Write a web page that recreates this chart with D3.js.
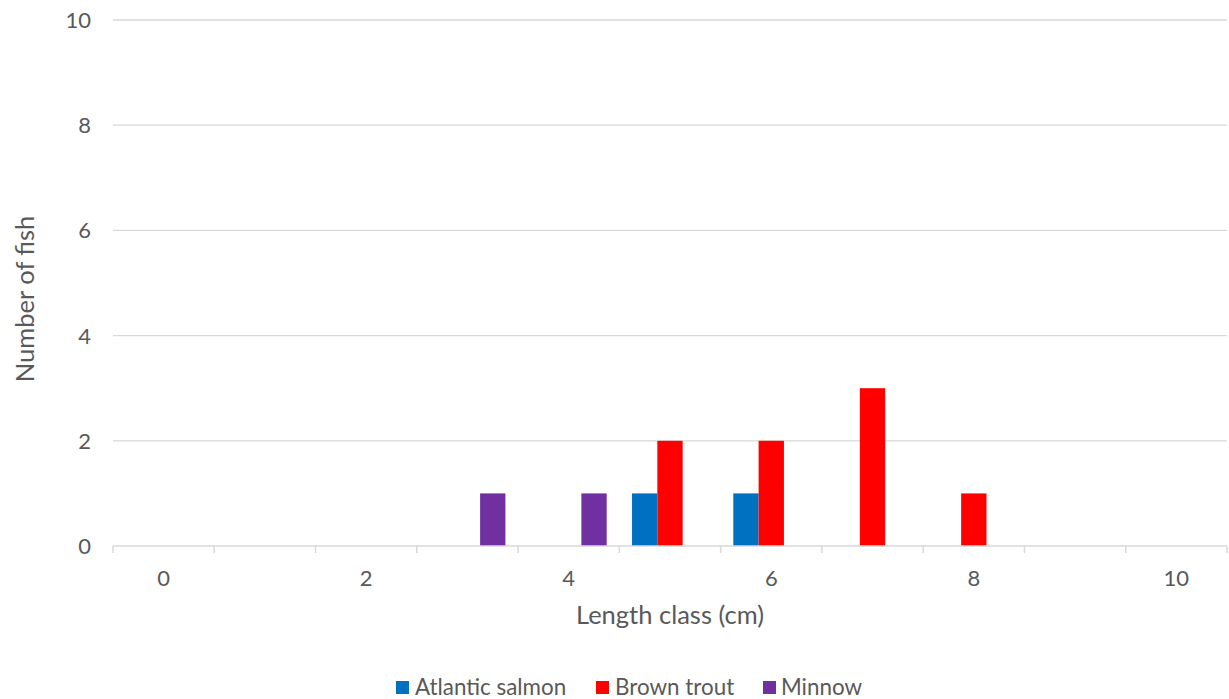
<!DOCTYPE html>
<html>
<head>
<meta charset="utf-8">
<script src="https://cdn.jsdelivr.net/npm/d3@7"></script>
<style>
  html, body { margin: 0; padding: 0; background: #fff; }
  text { font-family: Lato, "Open Sans", sans-serif; fill: #595959; }
</style>
</head>
<body>
<svg id="chart" width="1229" height="699"></svg>
<script>
const categories = [0, 1, 2, 3, 4, 5, 6, 7, 8, 9, 10];
const tickLabels = [0, 2, 4, 6, 8, 10];
const seriesNames = ["Atlantic salmon", "Brown trout", "Minnow"];
const atlanticSalmon = [0, 0, 0, 0, 0, 1, 1, 0, 0, 0, 0];
const brownTrout     = [0, 0, 0, 0, 0, 2, 2, 3, 1, 0, 0];
const minnow         = [0, 0, 0, 1, 1, 0, 0, 0, 0, 0, 0];
const yTicks = [0, 2, 4, 6, 8, 10];
const colors = ["#0070C0", "#FF0000", "#7030A0"];

const seriesValues = [atlanticSalmon, brownTrout, minnow];

const svg = d3.select("#chart");
const plotLeft = 113, plotRight = 1227, plotTop = 20, plotBottom = 546;

const x = d3.scaleBand().domain(categories).range([plotLeft, plotRight]).paddingInner(0).paddingOuter(0);
const x1 = d3.scaleBand().domain(seriesNames).range([0, x.bandwidth()]).paddingInner(0).paddingOuter(0.5);
const y = d3.scaleLinear().domain([0, 10]).range([plotBottom, plotTop]);
const color = d3.scaleOrdinal().domain(seriesNames).range(colors);

// gridlines
svg.append("g").selectAll("line").data(yTicks.filter(d => d > 0)).join("line")
  .attr("x1", plotLeft).attr("x2", plotRight)
  .attr("y1", d => y(d)).attr("y2", d => y(d))
  .attr("stroke", "#d9d9d9").attr("stroke-width", 1.3);

// y tick labels
svg.append("g").selectAll("text").data(yTicks).join("text")
  .attr("x", 91).attr("y", d => y(d))
  .attr("dy", "0.36em")
  .attr("text-anchor", "end")
  .style("font-size", "22px")
  .text(d => d);

// bars
const rows = [];
seriesNames.forEach((s, i) => {
  categories.forEach((c, j) => {
    if (seriesValues[i][j] > 0) rows.push({ s, c, v: seriesValues[i][j] });
  });
});
svg.append("g").selectAll("rect").data(rows).join("rect")
  .attr("x", d => x(d.c) + x1(d.s))
  .attr("width", x1.bandwidth())
  .attr("y", d => y(d.v))
  .attr("height", d => y(0) - y(d.v))
  .attr("fill", d => color(d.s));

// x axis line and ticks
const xAxisG = svg.append("g");
xAxisG.append("line")
  .attr("x1", plotLeft).attr("x2", plotRight)
  .attr("y1", plotBottom).attr("y2", plotBottom)
  .attr("stroke", "#d9d9d9").attr("stroke-width", 1.5);
const boundaries = categories.map(c => x(c)).concat([x(categories[categories.length - 1]) + x.bandwidth()]);
xAxisG.selectAll("line.tick").data(boundaries).join("line")
  .attr("class", "tick")
  .attr("x1", d => d).attr("x2", d => d)
  .attr("y1", plotBottom).attr("y2", plotBottom + 7)
  .attr("stroke", "#d9d9d9").attr("stroke-width", 1.5);

// x tick labels
svg.append("g").selectAll("text").data(tickLabels).join("text")
  .attr("x", d => x(d) + x.bandwidth() / 2)
  .attr("y", 586)
  .attr("text-anchor", "middle")
  .style("font-size", "22px")
  .text(d => d);

// axis titles
svg.append("text")
  .attr("x", 670).attr("y", 624)
  .attr("text-anchor", "middle")
  .style("font-size", "25.5px")
  .text("Length class (cm)");

svg.append("text")
  .attr("transform", "translate(34," + 299 + ") rotate(-90)")
  .attr("text-anchor", "middle")
  .style("font-size", "25.5px")
  .text("Number of fish");

// legend
const legendItems = [
  { name: seriesNames[0], sx: 396, tx: 415 },
  { name: seriesNames[1], sx: 596, tx: 615 },
  { name: seriesNames[2], sx: 763, tx: 781 }
];
const lg = svg.append("g");
lg.selectAll("rect").data(legendItems).join("rect")
  .attr("x", d => d.sx).attr("y", 681)
  .attr("width", 13).attr("height", 13)
  .attr("fill", d => color(d.name));
lg.selectAll("text").data(legendItems).join("text")
  .attr("x", d => d.tx).attr("y", 694.5)
  .style("font-size", "22.4px")
  .text(d => d.name);
</script>
</body>
</html>
